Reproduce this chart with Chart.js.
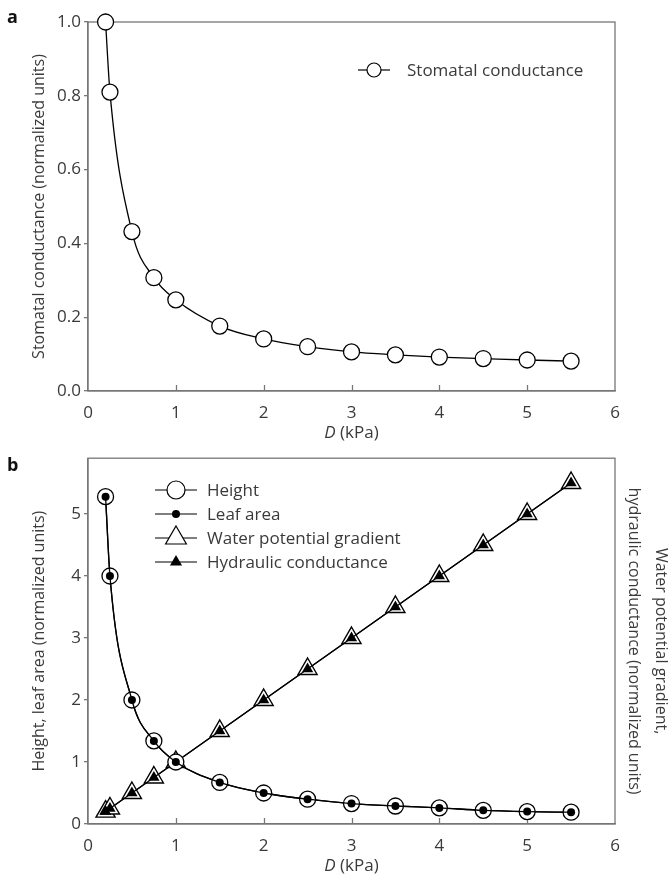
<!DOCTYPE html>
<html><head><meta charset="utf-8">
<script src="https://cdn.jsdelivr.net/npm/chart.js@4/dist/chart.umd.min.js"></script>
<style>
html,body{margin:0;padding:0;background:#fff;}
#wrap{position:relative;width:671px;height:874px;}
canvas{position:absolute;left:0;}
#ca{top:0;} #cb{top:445px;}
</style></head><body>
<div id="wrap"><canvas id="ca" width="671" height="445"></canvas><canvas id="cb" width="671" height="429"></canvas></div>
<script>
// ---------- data ----------
const D = [0.2, 0.25, 0.5, 0.75, 1, 1.5, 2, 2.5, 3, 3.5, 4, 4.5, 5, 5.5];
const stomatal = [1.0, 0.81, 0.432, 0.307, 0.247, 0.176, 0.141, 0.12, 0.106, 0.098, 0.092, 0.088, 0.084, 0.081];
const heightV = [5.28, 4.0, 2.0, 1.34, 1.0, 0.67, 0.5, 0.4, 0.33, 0.29, 0.26, 0.22, 0.2, 0.19];
const leafArea = [5.28, 4.0, 2.0, 1.34, 1.0, 0.67, 0.5, 0.4, 0.33, 0.29, 0.26, 0.22, 0.2, 0.19];
const waterGrad = [0.2, 0.25, 0.5, 0.75, 1, 1.5, 2, 2.5, 3, 3.5, 4, 4.5, 5, 5.5];
const hydraulic = [0.2, 0.25, 0.5, 0.75, 1, 1.5, 2, 2.5, 3, 3.5, 4, 4.5, 5, 5.5];
const xTicks = [0, 1, 2, 3, 4, 5, 6];
const yTicksA = [0, 0.2, 0.4, 0.6, 0.8, 1.0];
const yTicksB = [0, 1, 2, 3, 4, 5];

const FONT = '"Open Sans", "Noto Sans", sans-serif';
const AXIS = '#777';
const TXT = '#3a3a3a';
Chart.defaults.font.family = FONT;
Chart.defaults.color = TXT;

const pts = (xs, ys) => xs.map((x, i) => ({x: x, y: ys[i]}));

function drawMarker(ctx, m, x, y) {
  ctx.save();
  ctx.fillStyle = m.fill; ctx.strokeStyle = '#000'; ctx.lineWidth = m.bw;
  Chart.helpers.drawPoint(ctx, {pointStyle: m.style, radius: m.r, rotation: 0, borderWidth: m.bw}, x, y);
  ctx.restore();
}

function framePlugin(opts) {
  return {
    id: 'frame_' + opts.id,
    beforeDatasetsDraw(chart) {
      const {ctx, chartArea: a} = chart;
      const xs = chart.scales.x;
      ctx.save();
      ctx.strokeStyle = AXIS; ctx.lineWidth = 1.3;
      ctx.strokeRect(a.left, a.top, a.right - a.left, a.bottom - a.top);
      xTicks.forEach(v => {
        if (v === xs.min || v === xs.max) return;
        const px = Math.round(xs.getPixelForValue(v)) + 0.5;
        ctx.beginPath(); ctx.moveTo(px, a.bottom); ctx.lineTo(px, a.bottom - 6); ctx.stroke();
      });
      ctx.restore();
    },
    afterDraw(chart) {
      const {ctx, chartArea: a} = chart;
      ctx.save();
      ctx.fillStyle = '#111';
      ctx.font = 'bold 18px ' + FONT;
      ctx.textBaseline = 'alphabetic'; ctx.textAlign = 'left';
      ctx.fillText(opts.letter, 7, opts.letterY);
      ctx.fillStyle = TXT;
      const fI = 'italic 17px ' + FONT, fN = '17px ' + FONT;
      ctx.font = fI; const w1 = ctx.measureText('D').width;
      ctx.font = fN; const w2 = ctx.measureText(' (kPa)').width;
      const cx = (a.left + a.right) / 2;
      const x0 = cx - (w1 + w2) / 2;
      ctx.font = fI; ctx.fillText('D', x0, opts.xTitleY);
      ctx.font = fN; ctx.fillText(' (kPa)', x0 + w1, opts.xTitleY);
      ctx.font = fN; ctx.textBaseline = 'middle';
      opts.legend.forEach((it, i) => {
        const y = opts.legY + i * opts.legStep;
        ctx.strokeStyle = '#000'; ctx.lineWidth = 1.2;
        ctx.beginPath(); ctx.moveTo(opts.legX0, y); ctx.lineTo(opts.legX1, y); ctx.stroke();
        const mx = (opts.legX0 + opts.legX1) / 2;
        it.markers.forEach(m => drawMarker(ctx, m, mx, y));
        ctx.fillStyle = TXT;
        ctx.fillText(it.label, opts.legTX, y + 1);
      });
      ctx.restore();
    }
  };
}

function xScale(h) {
  return {
    type: 'linear', min: 0, max: 6,
    afterBuildTicks: s => { s.ticks = xTicks.map(v => ({value: v})); },
    ticks: {padding: 4, font: {size: 17}, color: TXT, callback: v => String(v)},
    grid: {display: false},
    border: {display: true, color: AXIS, width: 1.3},
    afterFit: s => { s.height = h; }
  };
}

// ---------- panel a ----------
new Chart(document.getElementById('ca'), {
  type: 'line',
  data: {
    datasets: [{
      label: 'Stomatal conductance',
      data: pts(D, stomatal),
      borderColor: '#000', borderWidth: 1.3,
      cubicInterpolationMode: 'monotone',
      pointStyle: 'circle', pointRadius: 8, pointBackgroundColor: '#fff',
      pointBorderColor: '#000', pointBorderWidth: 1.3, clip: false
    }]
  },
  options: {
    responsive: false, animation: false, devicePixelRatio: 1,
    layout: {padding: {top: 22, right: 56, left: 0, bottom: 0}},
    plugins: {legend: {display: false}, tooltip: {enabled: false}},
    scales: {
      x: xScale(54),
      y: {
        type: 'linear', min: 0, max: 1,
        afterBuildTicks: s => { s.ticks = yTicksA.map(v => ({value: v})); },
        ticks: {padding: 3, font: {size: 17}, color: TXT, callback: v => v.toFixed(1)},
        grid: {display: true, drawOnChartArea: false, drawTicks: true, tickLength: 4, color: AXIS, lineWidth: 1.3},
        border: {display: true, color: AXIS, width: 1.3},
        title: {display: true, text: 'Stomatal conductance (normalized units)', font: {size: 16}, color: TXT, padding: {top: 30, bottom: 0}},
        afterFit: s => { s.width = 88; }
      }
    }
  },
  plugins: [framePlugin({
    id: 'a', letter: 'a', letterY: 23, xTitleY: 438,
    legX0: 358, legX1: 390, legTX: 407, legY: 70, legStep: 24,
    legend: [{label: 'Stomatal conductance', markers: [{style: 'circle', r: 7, fill: '#fff', bw: 1.2}]}]
  })]
});

// ---------- panel b ----------
new Chart(document.getElementById('cb'), {
  type: 'line',
  data: {
    datasets: [
      {label: 'Leaf area', data: pts(D, leafArea), borderColor: '#000', borderWidth: 1.3,
       cubicInterpolationMode: 'monotone', pointStyle: 'circle', pointRadius: 4,
       pointBackgroundColor: '#000', pointBorderColor: '#000', pointBorderWidth: 0, clip: false, order: 0},
      {label: 'Height', data: pts(D, heightV), borderColor: '#000', borderWidth: 1.3,
       cubicInterpolationMode: 'monotone', pointStyle: 'circle', pointRadius: 8,
       pointBackgroundColor: '#fff', pointBorderColor: '#000', pointBorderWidth: 1.3, clip: false, order: 1},
      {label: 'Hydraulic conductance', data: pts(D, hydraulic), borderColor: '#000', borderWidth: 1.3,
       pointStyle: 'triangle', pointRadius: 6.5,
       pointBackgroundColor: '#000', pointBorderColor: '#000', pointBorderWidth: 0, clip: false, order: 2},
      {label: 'Water potential gradient', data: pts(D, waterGrad), borderColor: '#000', borderWidth: 1.3,
       pointStyle: 'triangle', pointRadius: 11,
       pointBackgroundColor: '#fff', pointBorderColor: '#000', pointBorderWidth: 1.4, clip: false, order: 3}
    ]
  },
  options: {
    responsive: false, animation: false, devicePixelRatio: 1,
    layout: {padding: {top: 11, right: 0, left: 0, bottom: 0}},
    plugins: {legend: {display: false}, tooltip: {enabled: false}},
    scales: {
      x: xScale(50),
      y: {
        type: 'linear', min: 0, max: 5.9, position: 'left',
        afterBuildTicks: s => { s.ticks = yTicksB.map(v => ({value: v})); },
        ticks: {padding: 3, font: {size: 17}, color: TXT, callback: v => String(v)},
        grid: {display: true, drawOnChartArea: false, drawTicks: true, tickLength: 4, color: AXIS, lineWidth: 1.3},
        border: {display: true, color: AXIS, width: 1.3},
        title: {display: true, text: 'Height, leaf area (normalized units)', font: {size: 16}, color: TXT, padding: {top: 30, bottom: 0}},
        afterFit: s => { s.width = 88; }
      },
      y2: {
        type: 'linear', min: 0, max: 5.9, position: 'right',
        ticks: {display: false},
        grid: {display: false},
        border: {display: false},
        title: {display: true, text: ['Water potential gradient,', 'hydraulic conductance (normalized units)'],
                font: {size: 16, lineHeight: '27px'}, color: TXT, padding: {top: -3.5, bottom: 0}},
        afterFit: s => { s.width = 56; }
      }
    }
  },
  plugins: [framePlugin({
    id: 'b', letter: 'b', letterY: 26, xTitleY: 426,
    legX0: 155, legX1: 197, legTX: 207, legY: 45, legStep: 24,
    legend: [
      {label: 'Height', markers: [{style: 'circle', r: 9, fill: '#fff', bw: 1.2}]},
      {label: 'Leaf area', markers: [{style: 'circle', r: 4, fill: '#000', bw: 0}]},
      {label: 'Water potential gradient', markers: [{style: 'triangle', r: 12, fill: '#fff', bw: 1.2}]},
      {label: 'Hydraulic conductance', markers: [{style: 'triangle', r: 7, fill: '#000', bw: 0}]}
    ]
  })]
});
</script>
</body></html>
